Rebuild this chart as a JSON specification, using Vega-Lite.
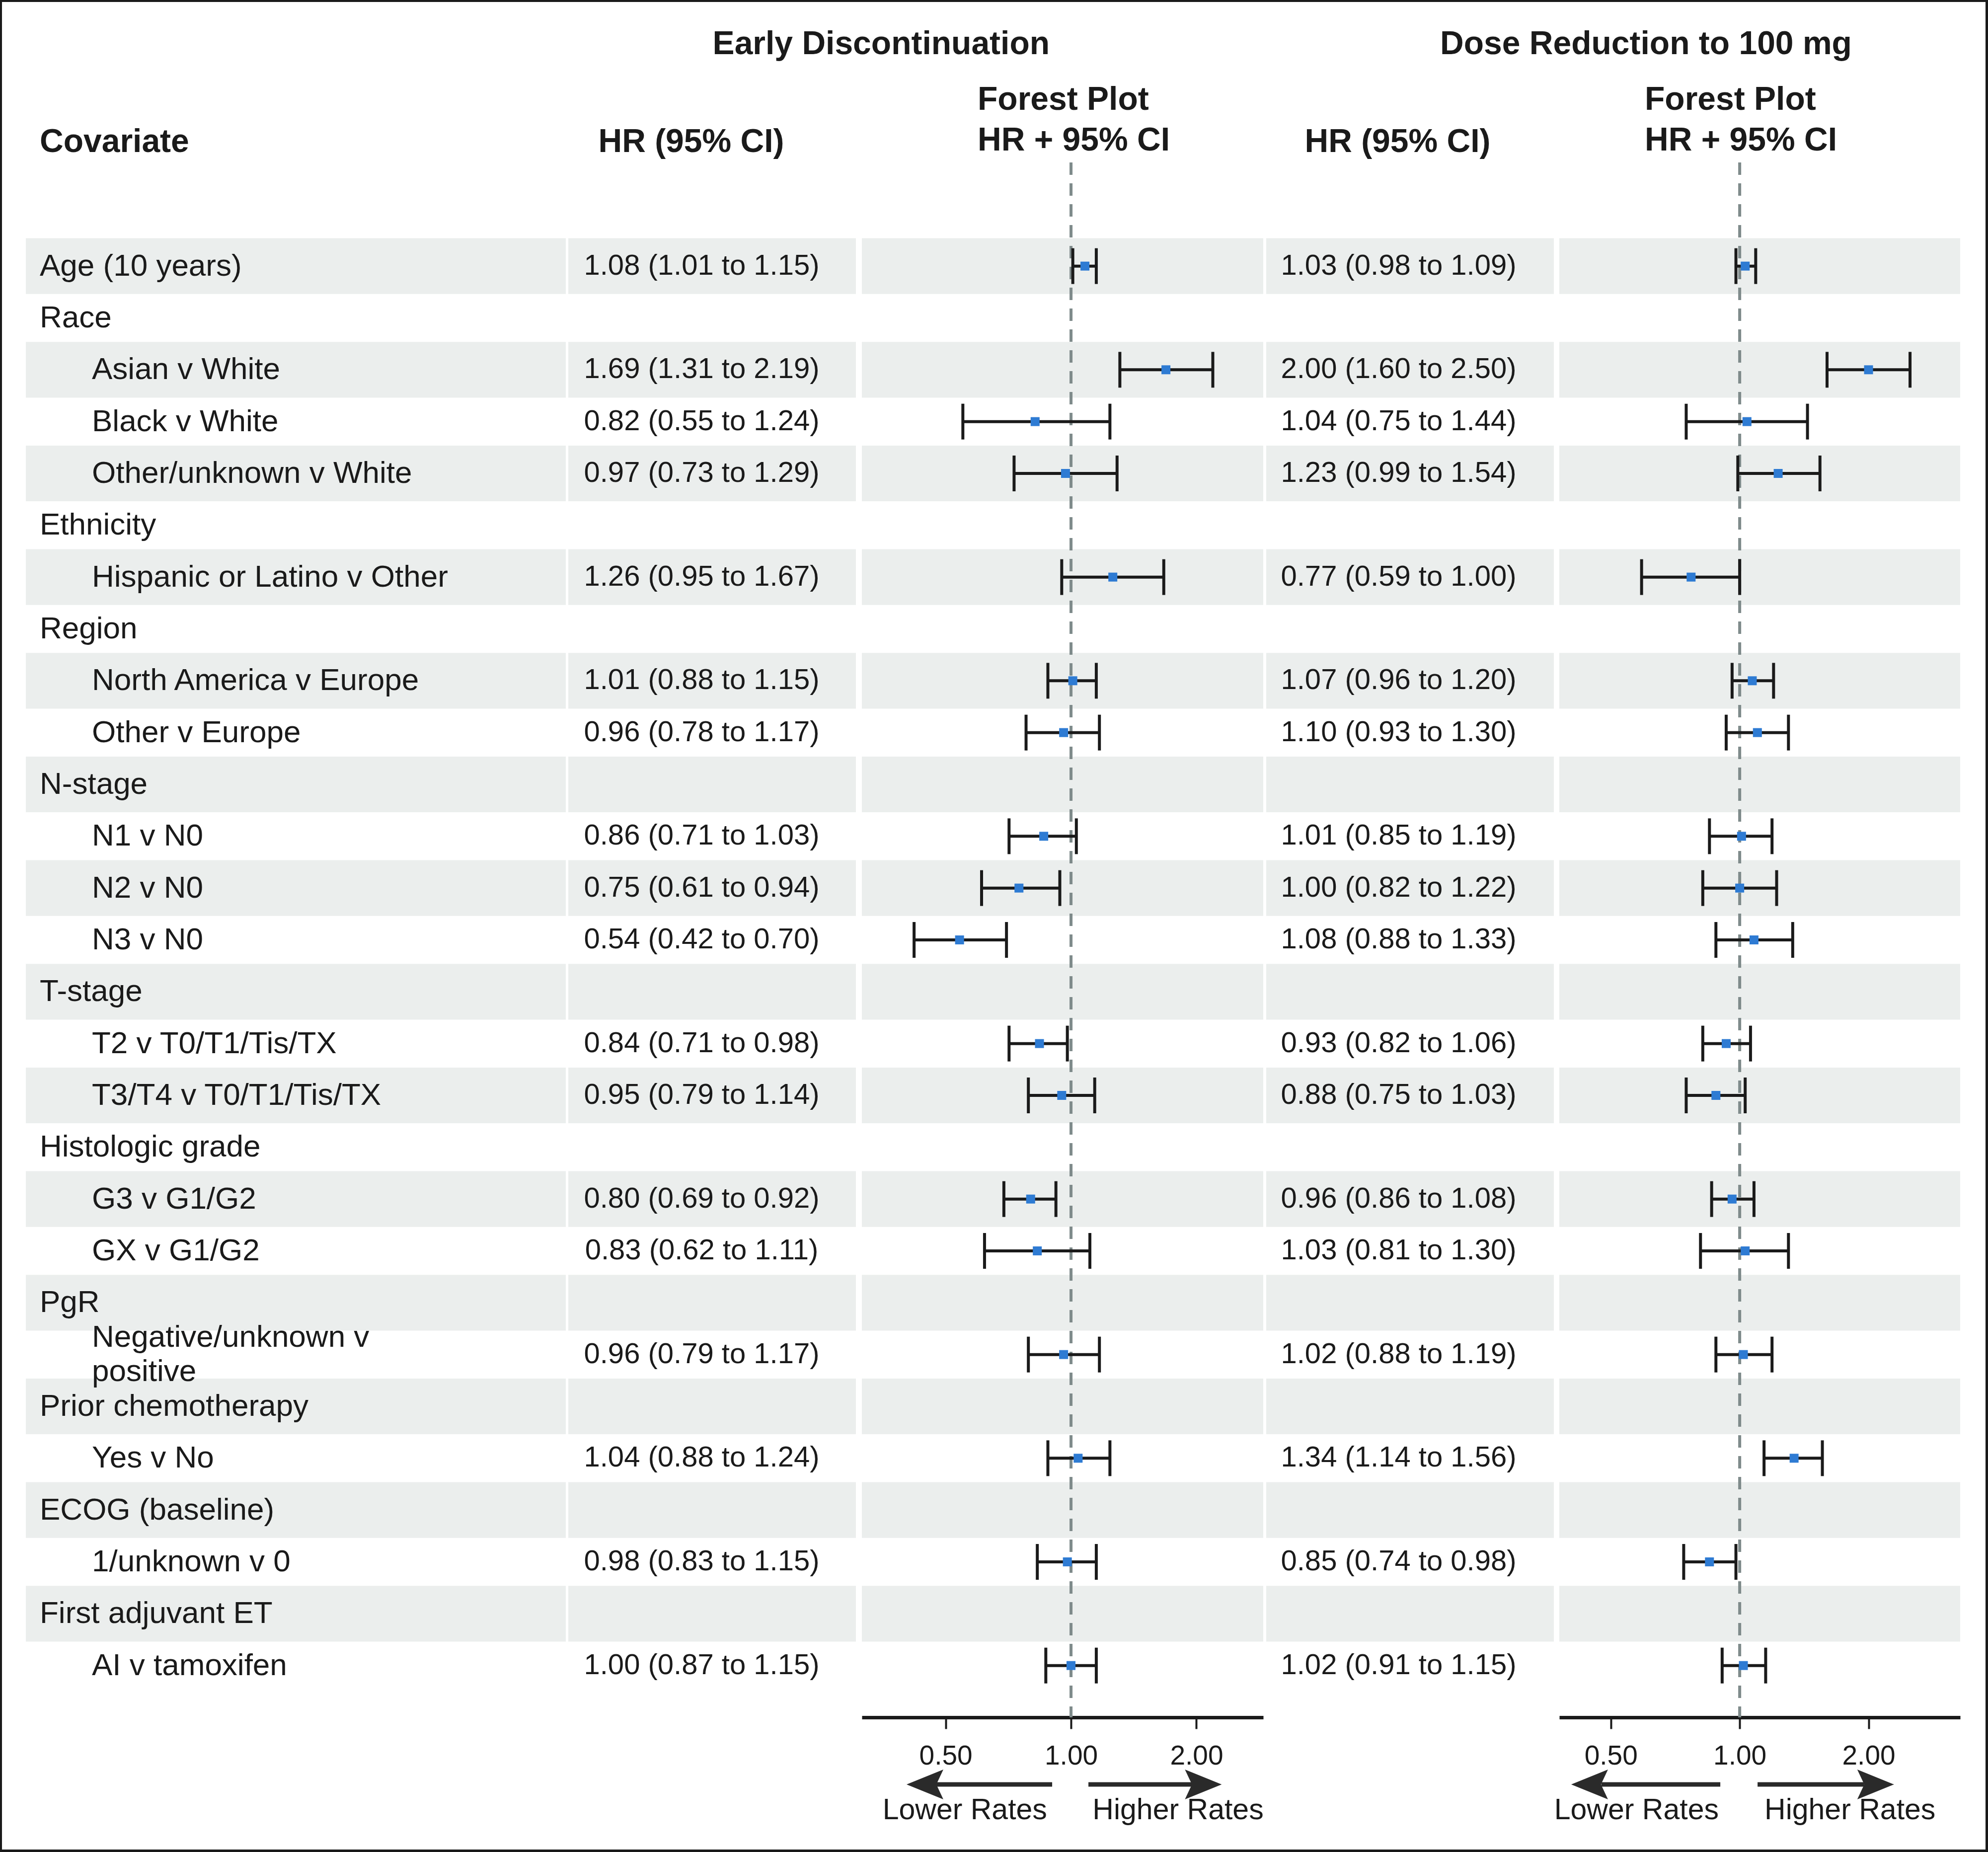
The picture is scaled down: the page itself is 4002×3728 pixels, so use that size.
{
 "$schema": "https://vega.github.io/schema/vega-lite/v6.json",
 "background": "white",
 "padding": 0,
 "config": {"view": {"stroke": null}, "font": "Liberation Sans"},
 "datasets": {"rows": [
{"label":"Age (10 years)","level":"group","hr1":1.08,"lo1":1.01,"hi1":1.15,"ci1":"1.08 (1.01 to 1.15)","hr2":1.03,"lo2":0.98,"hi2":1.09,"ci2":"1.03 (0.98 to 1.09)"},
{"label":"Race","level":"group"},
{"label":"Asian v White","level":"item","hr1":1.69,"lo1":1.31,"hi1":2.19,"ci1":"1.69 (1.31 to 2.19)","hr2":2.00,"lo2":1.60,"hi2":2.50,"ci2":"2.00 (1.60 to 2.50)"},
{"label":"Black v White","level":"item","hr1":0.82,"lo1":0.55,"hi1":1.24,"ci1":"0.82 (0.55 to 1.24)","hr2":1.04,"lo2":0.75,"hi2":1.44,"ci2":"1.04 (0.75 to 1.44)"},
{"label":"Other/unknown v White","level":"item","hr1":0.97,"lo1":0.73,"hi1":1.29,"ci1":"0.97 (0.73 to 1.29)","hr2":1.23,"lo2":0.99,"hi2":1.54,"ci2":"1.23 (0.99 to 1.54)"},
{"label":"Ethnicity","level":"group"},
{"label":"Hispanic or Latino v Other","level":"item","hr1":1.26,"lo1":0.95,"hi1":1.67,"ci1":"1.26 (0.95 to 1.67)","hr2":0.77,"lo2":0.59,"hi2":1.00,"ci2":"0.77 (0.59 to 1.00)"},
{"label":"Region","level":"group"},
{"label":"North America v Europe","level":"item","hr1":1.01,"lo1":0.88,"hi1":1.15,"ci1":"1.01 (0.88 to 1.15)","hr2":1.07,"lo2":0.96,"hi2":1.20,"ci2":"1.07 (0.96 to 1.20)"},
{"label":"Other v Europe","level":"item","hr1":0.96,"lo1":0.78,"hi1":1.17,"ci1":"0.96 (0.78 to 1.17)","hr2":1.10,"lo2":0.93,"hi2":1.30,"ci2":"1.10 (0.93 to 1.30)"},
{"label":"N-stage","level":"group"},
{"label":"N1 v N0","level":"item","hr1":0.86,"lo1":0.71,"hi1":1.03,"ci1":"0.86 (0.71 to 1.03)","hr2":1.01,"lo2":0.85,"hi2":1.19,"ci2":"1.01 (0.85 to 1.19)"},
{"label":"N2 v N0","level":"item","hr1":0.75,"lo1":0.61,"hi1":0.94,"ci1":"0.75 (0.61 to 0.94)","hr2":1.00,"lo2":0.82,"hi2":1.22,"ci2":"1.00 (0.82 to 1.22)"},
{"label":"N3 v N0","level":"item","hr1":0.54,"lo1":0.42,"hi1":0.70,"ci1":"0.54 (0.42 to 0.70)","hr2":1.08,"lo2":0.88,"hi2":1.33,"ci2":"1.08 (0.88 to 1.33)"},
{"label":"T-stage","level":"group"},
{"label":"T2 v T0/T1/Tis/TX","level":"item","hr1":0.84,"lo1":0.71,"hi1":0.98,"ci1":"0.84 (0.71 to 0.98)","hr2":0.93,"lo2":0.82,"hi2":1.06,"ci2":"0.93 (0.82 to 1.06)"},
{"label":"T3/T4 v T0/T1/Tis/TX","level":"item","hr1":0.95,"lo1":0.79,"hi1":1.14,"ci1":"0.95 (0.79 to 1.14)","hr2":0.88,"lo2":0.75,"hi2":1.03,"ci2":"0.88 (0.75 to 1.03)"},
{"label":"Histologic grade","level":"group"},
{"label":"G3 v G1/G2","level":"item","hr1":0.80,"lo1":0.69,"hi1":0.92,"ci1":"0.80 (0.69 to 0.92)","hr2":0.96,"lo2":0.86,"hi2":1.08,"ci2":"0.96 (0.86 to 1.08)"},
{"label":"GX v G1/G2","level":"item","hr1":0.83,"lo1":0.62,"hi1":1.11,"ci1":"0.83 (0.62 to 1.11)","hr2":1.03,"lo2":0.81,"hi2":1.30,"ci2":"1.03 (0.81 to 1.30)"},
{"label":"PgR","level":"group"},
{"label":"Negative/unknown v\npositive","level":"item","hr1":0.96,"lo1":0.79,"hi1":1.17,"ci1":"0.96 (0.79 to 1.17)","hr2":1.02,"lo2":0.88,"hi2":1.19,"ci2":"1.02 (0.88 to 1.19)"},
{"label":"Prior chemotherapy","level":"group"},
{"label":"Yes v No","level":"item","hr1":1.04,"lo1":0.88,"hi1":1.24,"ci1":"1.04 (0.88 to 1.24)","hr2":1.34,"lo2":1.14,"hi2":1.56,"ci2":"1.34 (1.14 to 1.56)"},
{"label":"ECOG (baseline)","level":"group"},
{"label":"1/unknown v 0","level":"item","hr1":0.98,"lo1":0.83,"hi1":1.15,"ci1":"0.98 (0.83 to 1.15)","hr2":0.85,"lo2":0.74,"hi2":0.98,"ci2":"0.85 (0.74 to 0.98)"},
{"label":"First adjuvant ET","level":"group"},
{"label":"AI v tamoxifen","level":"item","hr1":1.00,"lo1":0.87,"hi1":1.15,"ci1":"1.00 (0.87 to 1.15)","hr2":1.02,"lo2":0.91,"hi2":1.15,"ci2":"1.02 (0.91 to 1.15)"}
 ]},
 "spacing": 0,
 "vconcat": [
  {"width": 4002, "height": 4, "data": {"values": [{}]}, "mark": {"type": "rect", "color": "#1a1a1a"},
   "encoding": {"x": {"value": 0}, "x2": {"value": "width"}, "y": {"value": 0}, "y2": {"value": "height"}}},
  {
   "spacing": 51,
   "hconcat": [
    {
     "spacing": 48,
     "hconcat": [
      {"width": 4, "height": 3719, "data": {"values": [{}]}, "mark": {"type": "rect", "color": "#1a1a1a"},
       "encoding": {"x": {"value": 0}, "x2": {"value": "width"}, "y": {"value": 0}, "y2": {"value": "height"}}},
      {
       "spacing": 0,
       "vconcat": [
        {"width": 10, "height": 52, "data": {"values": [{}]}, "mark": {"type": "rect", "color": "white"},
         "encoding": {"x": {"value": 0}, "x2": {"value": "width"}, "y": {"value": 0}, "y2": {"value": "height"}}},
        {
         "resolve": {"scale": {"x": "independent", "y": "independent"}},
         "spacing": 5,
         "hconcat": [
          {
           "title": {"text": " ", "fontSize": 66, "fontWeight": "bold", "color": "#1a1a1a", "anchor": "middle", "offset": 45},
           "hconcat": [
            {
             "width": 1087, "height": 3130,
             "title": {"text": [" ", "Covariate"], "anchor": "start", "dx": 28, "frame": "group", "fontSize": 66, "fontWeight": "bold", "lineHeight": 82, "offset": 7, "color": "#1a1a1a"},
             "data": {"name": "rows"},
             "layer": [
              {"transform": [{"window": [{"op": "row_number", "as": "rn"}]}],
               "mark": {"type": "rect", "color": "#ebeeed", "height": {"band": 1.075}},
               "encoding": {"y": {"field": "label", "type": "nominal", "sort": null, "axis": null, "scale": {"paddingInner": 0, "paddingOuter": 1, "align": 0.75}}, "x": {"value": 0}, "x2": {"value": "width"},
                "opacity": {"condition": {"test": "datum.rn % 2 === 1", "value": 1}, "value": 0}}},
              {"transform": [{"filter": "indexof(datum.label, '\\n') < 0"}],
               "mark": {"type": "text", "align": "left", "baseline": "middle", "fontSize": 62, "color": "#1a1a1a"},
               "encoding": {"y": {"field": "label", "type": "nominal", "sort": null, "axis": null, "scale": {"paddingInner": 0, "paddingOuter": 1, "align": 0.75}},
                "x": {"field": "level", "type": "nominal", "axis": null, "scale": {"type": "point", "domain": ["group", "item"], "range": [28, 133], "padding": 0}},
                "text": {"field": "label"}}},
              {"transform": [{"filter": "indexof(datum.label, '\\n') >= 0"}],
               "mark": {"type": "text", "align": "left", "baseline": "middle", "fontSize": 62, "lineBreak": "\n", "lineHeight": 69, "dy": -34.5, "color": "#1a1a1a"},
               "encoding": {"y": {"field": "label", "type": "nominal", "sort": null, "axis": null, "scale": {"paddingInner": 0, "paddingOuter": 1, "align": 0.75}},
                "x": {"field": "level", "type": "nominal", "axis": null, "scale": {"type": "point", "domain": ["group", "item"], "range": [28, 133], "padding": 0}},
                "text": {"field": "label"}}}
             ]
            }
           ]
          },
          {
           "title": {"text": "Early Discontinuation", "fontSize": 66, "fontWeight": "bold", "color": "#1a1a1a", "anchor": "middle", "dx": -70, "offset": 45},
           "resolve": {"scale": {"x": "independent", "y": "independent"}},
           "spacing": 12,
           "hconcat": [
            {
             "width": 579, "height": 3130,
             "title": {"text": [" ", "HR (95% CI)"], "anchor": "middle", "dx": -42, "frame": "group", "fontSize": 66, "fontWeight": "bold", "lineHeight": 82, "offset": 7, "color": "#1a1a1a"},
             "data": {"name": "rows"},
             "layer": [
              {"transform": [{"window": [{"op": "row_number", "as": "rn"}]}],
               "mark": {"type": "rect", "color": "#ebeeed", "height": {"band": 1.075}},
               "encoding": {"y": {"field": "label", "type": "nominal", "sort": null, "axis": null, "scale": {"paddingInner": 0, "paddingOuter": 1, "align": 0.75}}, "x": {"value": 0}, "x2": {"value": "width"},
                "opacity": {"condition": {"test": "datum.rn % 2 === 1", "value": 1}, "value": 0}}},
              {"transform": [{"filter": "isValid(datum.ci1)"}],
               "mark": {"type": "text", "align": "center", "baseline": "middle", "fontSize": 58, "dx": -21, "color": "#1a1a1a"},
               "encoding": {"y": {"field": "label", "type": "nominal", "sort": null, "axis": null, "scale": {"paddingInner": 0, "paddingOuter": 1, "align": 0.75}}, "text": {"field": "ci1"}}}
             ]
            },
            {
             "spacing": 0,
             "resolve": {"scale": {"x": "independent", "y": "independent"}},
             "vconcat": [
              {
               "width": 808, "height": 3130,
               "title": {"text": ["Forest Plot", "HR + 95% CI"], "anchor": "start", "dx": 233, "frame": "group", "fontSize": 66, "fontWeight": "bold", "lineHeight": 82, "offset": 7, "color": "#1a1a1a"},
               "data": {"name": "rows"},
               "layer": [
                {"transform": [{"window": [{"op": "row_number", "as": "rn"}]}],
                 "mark": {"type": "rect", "color": "#ebeeed", "height": {"band": 1.075}},
                 "encoding": {"y": {"field": "label", "type": "nominal", "sort": null, "axis": null, "scale": {"paddingInner": 0, "paddingOuter": 1, "align": 0.75}}, "x": {"value": 0}, "x2": {"value": "width"},
                  "opacity": {"condition": {"test": "datum.rn % 2 === 1", "value": 1}, "value": 0}}},
                {"data": {"values": [{}]},
                 "mark": {"type": "rule", "color": "#7f8b8b", "strokeWidth": 6, "strokeDash": [25, 17]},
                 "encoding": {"x": {"datum": 1, "type": "quantitative", "scale": {"type": "log", "domain": [0.3147, 2.894], "nice": false, "zero": false},
                   "axis": {"values": [0.5, 1, 2], "format": ".2f", "title": null, "grid": false, "domainColor": "#1a1a1a", "domainWidth": 7, "tickColor": "#1a1a1a", "tickWidth": 4, "tickSize": 23, "labelFontSize": 55, "labelColor": "#1a1a1a", "labelPadding": 28, "labelFlush": false, "labelOverlap": false}}}},
                {"transform": [{"filter": "isValid(datum.hr1)"}],
                 "mark": {"type": "rule", "color": "#1a1a1a", "strokeWidth": 6},
                 "encoding": {"y": {"field": "label", "type": "nominal", "sort": null, "axis": null, "scale": {"paddingInner": 0, "paddingOuter": 1, "align": 0.75}}, "x": {"field": "lo1", "type": "quantitative"}, "x2": {"field": "hi1"}}},
                {"transform": [{"filter": "isValid(datum.hr1)"}],
                 "mark": {"type": "tick", "color": "#1a1a1a", "size": 72, "thickness": 6, "opacity": 1},
                 "encoding": {"y": {"field": "label", "type": "nominal", "sort": null, "axis": null, "scale": {"paddingInner": 0, "paddingOuter": 1, "align": 0.75}}, "x": {"field": "lo1", "type": "quantitative"}}},
                {"transform": [{"filter": "isValid(datum.hr1)"}],
                 "mark": {"type": "tick", "color": "#1a1a1a", "size": 72, "thickness": 6, "opacity": 1},
                 "encoding": {"y": {"field": "label", "type": "nominal", "sort": null, "axis": null, "scale": {"paddingInner": 0, "paddingOuter": 1, "align": 0.75}}, "x": {"field": "hi1", "type": "quantitative"}}},
                {"transform": [{"filter": "isValid(datum.hr1)"}],
                 "mark": {"type": "point", "shape": "square", "filled": true, "size": 324, "color": "#2e7bd3", "opacity": 1},
                 "encoding": {"y": {"field": "label", "type": "nominal", "sort": null, "axis": null, "scale": {"paddingInner": 0, "paddingOuter": 1, "align": 0.75}}, "x": {"field": "hr1", "type": "quantitative"}}}
               ]
              },
              {
               "width": 808, "height": 104,
               "data": {"values": [{}]},
               "layer": [
                {"mark": {"type": "rule", "color": "#2a2a2a", "strokeWidth": 9},
                 "encoding": {"x": {"datum": 0.475, "type": "quantitative", "axis": null, "scale": {"type": "log", "domain": [0.3147, 2.894], "nice": false, "zero": false}}, "x2": {"datum": 0.901},
                  "y": {"datum": "arrow", "type": "nominal", "axis": null, "scale": {"domain": ["arrow", "label"], "paddingInner": 0, "paddingOuter": 0}}}},
                {"mark": {"type": "rule", "color": "#2a2a2a", "strokeWidth": 9},
                 "encoding": {"x": {"datum": 1.101, "type": "quantitative"}, "x2": {"datum": 1.954}, "y": {"datum": "arrow", "type": "nominal"}}},
                {"mark": {"type": "point", "shape": "M-1,0L1,-0.81L0.62,0L1,0.81Z", "size": 5476, "filled": true, "color": "#2a2a2a", "opacity": 1},
                 "encoding": {"x": {"datum": 0.446, "type": "quantitative"}, "y": {"datum": "arrow", "type": "nominal"}}},
                {"mark": {"type": "point", "shape": "M1,0L-1,-0.81L-0.62,0L-1,0.81Z", "size": 5476, "filled": true, "color": "#2a2a2a", "opacity": 1},
                 "encoding": {"x": {"datum": 2.078, "type": "quantitative"}, "y": {"datum": "arrow", "type": "nominal"}}},
                {"mark": {"type": "text", "text": "Lower Rates", "fontSize": 59, "align": "center", "baseline": "middle", "color": "#1a1a1a"},
                 "encoding": {"x": {"datum": 0.556, "type": "quantitative"}, "y": {"datum": "label", "type": "nominal"}}},
                {"mark": {"type": "text", "text": "Higher Rates", "fontSize": 59, "align": "center", "baseline": "middle", "color": "#1a1a1a"},
                 "encoding": {"x": {"datum": 1.807, "type": "quantitative"}, "y": {"datum": "label", "type": "nominal"}}}
               ]
              }
             ]
            }
           ]
          },
          {
           "title": {"text": "Dose Reduction to 100 mg", "fontSize": 66, "fontWeight": "bold", "color": "#1a1a1a", "anchor": "middle", "dx": 66, "offset": 45},
           "resolve": {"scale": {"x": "independent", "y": "independent"}},
           "spacing": 0,
           "hconcat": [
            {
             "width": 579, "height": 3130,
             "title": {"text": [" ", "HR (95% CI)"], "anchor": "middle", "dx": -25, "frame": "group", "fontSize": 66, "fontWeight": "bold", "lineHeight": 82, "offset": 7, "color": "#1a1a1a"},
             "data": {"name": "rows"},
             "layer": [
              {"transform": [{"window": [{"op": "row_number", "as": "rn"}]}],
               "mark": {"type": "rect", "color": "#ebeeed", "height": {"band": 1.075}},
               "encoding": {"y": {"field": "label", "type": "nominal", "sort": null, "axis": null, "scale": {"paddingInner": 0, "paddingOuter": 1, "align": 0.75}}, "x": {"value": 0}, "x2": {"value": "width"},
                "opacity": {"condition": {"test": "datum.rn % 2 === 1", "value": 1}, "value": 0}}},
              {"transform": [{"filter": "isValid(datum.ci2)"}],
               "mark": {"type": "text", "align": "center", "baseline": "middle", "fontSize": 58, "dx": -23, "color": "#1a1a1a"},
               "encoding": {"y": {"field": "label", "type": "nominal", "sort": null, "axis": null, "scale": {"paddingInner": 0, "paddingOuter": 1, "align": 0.75}}, "text": {"field": "ci2"}}}
             ]
            },
            {
             "spacing": 0,
             "resolve": {"scale": {"x": "independent", "y": "independent"}},
             "vconcat": [
              {
               "width": 807, "height": 3130,
               "title": {"text": ["Forest Plot", "HR + 95% CI"], "anchor": "start", "dx": 172, "frame": "group", "fontSize": 66, "fontWeight": "bold", "lineHeight": 82, "offset": 7, "color": "#1a1a1a"},
               "data": {"name": "rows"},
               "layer": [
                {"transform": [{"window": [{"op": "row_number", "as": "rn"}]}],
                 "mark": {"type": "rect", "color": "#ebeeed", "height": {"band": 1.075}},
                 "encoding": {"y": {"field": "label", "type": "nominal", "sort": null, "axis": null, "scale": {"paddingInner": 0, "paddingOuter": 1, "align": 0.75}}, "x": {"value": 0}, "x2": {"value": "width"},
                  "opacity": {"condition": {"test": "datum.rn % 2 === 1", "value": 1}, "value": 0}}},
                {"data": {"values": [{}]},
                 "mark": {"type": "rule", "color": "#7f8b8b", "strokeWidth": 6, "strokeDash": [25, 17]},
                 "encoding": {"x": {"datum": 1, "type": "quantitative", "scale": {"type": "log", "domain": [0.379, 3.274], "nice": false, "zero": false},
                   "axis": {"values": [0.5, 1, 2], "format": ".2f", "title": null, "grid": false, "domainColor": "#1a1a1a", "domainWidth": 7, "tickColor": "#1a1a1a", "tickWidth": 4, "tickSize": 23, "labelFontSize": 55, "labelColor": "#1a1a1a", "labelPadding": 28, "labelFlush": false, "labelOverlap": false}}}},
                {"transform": [{"filter": "isValid(datum.hr2)"}],
                 "mark": {"type": "rule", "color": "#1a1a1a", "strokeWidth": 6},
                 "encoding": {"y": {"field": "label", "type": "nominal", "sort": null, "axis": null, "scale": {"paddingInner": 0, "paddingOuter": 1, "align": 0.75}}, "x": {"field": "lo2", "type": "quantitative"}, "x2": {"field": "hi2"}}},
                {"transform": [{"filter": "isValid(datum.hr2)"}],
                 "mark": {"type": "tick", "color": "#1a1a1a", "size": 72, "thickness": 6, "opacity": 1},
                 "encoding": {"y": {"field": "label", "type": "nominal", "sort": null, "axis": null, "scale": {"paddingInner": 0, "paddingOuter": 1, "align": 0.75}}, "x": {"field": "lo2", "type": "quantitative"}}},
                {"transform": [{"filter": "isValid(datum.hr2)"}],
                 "mark": {"type": "tick", "color": "#1a1a1a", "size": 72, "thickness": 6, "opacity": 1},
                 "encoding": {"y": {"field": "label", "type": "nominal", "sort": null, "axis": null, "scale": {"paddingInner": 0, "paddingOuter": 1, "align": 0.75}}, "x": {"field": "hi2", "type": "quantitative"}}},
                {"transform": [{"filter": "isValid(datum.hr2)"}],
                 "mark": {"type": "point", "shape": "square", "filled": true, "size": 324, "color": "#2e7bd3", "opacity": 1},
                 "encoding": {"y": {"field": "label", "type": "nominal", "sort": null, "axis": null, "scale": {"paddingInner": 0, "paddingOuter": 1, "align": 0.75}}, "x": {"field": "hr2", "type": "quantitative"}}}
               ]
              },
              {
               "width": 807, "height": 104,
               "data": {"values": [{}]},
               "layer": [
                {"mark": {"type": "rule", "color": "#2a2a2a", "strokeWidth": 9},
                 "encoding": {"x": {"datum": 0.475, "type": "quantitative", "axis": null, "scale": {"type": "log", "domain": [0.379, 3.274], "nice": false, "zero": false}}, "x2": {"datum": 0.901},
                  "y": {"datum": "arrow", "type": "nominal", "axis": null, "scale": {"domain": ["arrow", "label"], "paddingInner": 0, "paddingOuter": 0}}}},
                {"mark": {"type": "rule", "color": "#2a2a2a", "strokeWidth": 9},
                 "encoding": {"x": {"datum": 1.101, "type": "quantitative"}, "x2": {"datum": 1.954}, "y": {"datum": "arrow", "type": "nominal"}}},
                {"mark": {"type": "point", "shape": "M-1,0L1,-0.81L0.62,0L1,0.81Z", "size": 5476, "filled": true, "color": "#2a2a2a", "opacity": 1},
                 "encoding": {"x": {"datum": 0.446, "type": "quantitative"}, "y": {"datum": "arrow", "type": "nominal"}}},
                {"mark": {"type": "point", "shape": "M1,0L-1,-0.81L-0.62,0L-1,0.81Z", "size": 5476, "filled": true, "color": "#2a2a2a", "opacity": 1},
                 "encoding": {"x": {"datum": 2.078, "type": "quantitative"}, "y": {"datum": "arrow", "type": "nominal"}}},
                {"mark": {"type": "text", "text": "Lower Rates", "fontSize": 59, "align": "center", "baseline": "middle", "color": "#1a1a1a"},
                 "encoding": {"x": {"datum": 0.574, "type": "quantitative"}, "y": {"datum": "label", "type": "nominal"}}},
                {"mark": {"type": "text", "text": "Higher Rates", "fontSize": 59, "align": "center", "baseline": "middle", "color": "#1a1a1a"},
                 "encoding": {"x": {"datum": 1.81, "type": "quantitative"}, "y": {"datum": "label", "type": "nominal"}}}
               ]
              }
             ]
            }
           ]
          }
         ]
        }
       ]
      }
     ]
    },
    {"width": 5, "height": 3719, "data": {"values": [{}]}, "mark": {"type": "rect", "color": "#1a1a1a"},
     "encoding": {"x": {"value": 0}, "x2": {"value": "width"}, "y": {"value": 0}, "y2": {"value": "height"}}}
   ]
  },
  {"width": 4002, "height": 5, "data": {"values": [{}]}, "mark": {"type": "rect", "color": "#1a1a1a"},
   "encoding": {"x": {"value": 0}, "x2": {"value": "width"}, "y": {"value": 0}, "y2": {"value": "height"}}}
 ]
}
